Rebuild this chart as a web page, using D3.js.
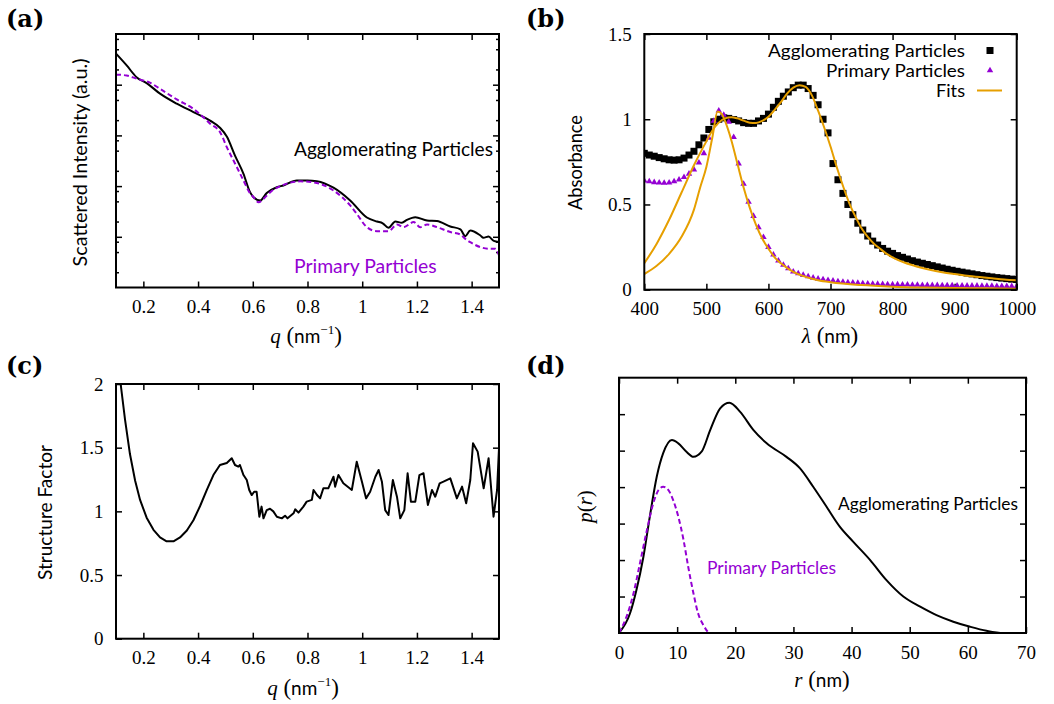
<!DOCTYPE html>
<html><head><meta charset="utf-8">
<script src="https://cdn.jsdelivr.net/npm/d3@7"></script>
<style>body{margin:0;background:#fff}svg{display:block}</style>
</head><body>
<svg id="c" width="1054" height="704"></svg>
<script>
// ---------- Panel (a): scattered intensity vs q (log y) ----------
const qAgg = [0.100,0.139,0.175,0.212,0.261,0.322,0.383,0.444,0.481,0.505,0.535,0.566,0.590,0.602,0.627,0.651,0.688,0.712,0.761,0.800,0.834,0.895,0.956,1.017,1.054,1.075,1.096,1.121,1.145,1.163,1.194,1.237,1.273,1.322,1.359,1.377,1.395,1.432,1.443,1.462,1.481,1.500];
const iAgg = [41000,24000,14100,10760,6650,4220,2885,1950,1400,950,400,175,76,61,52,73,95,103,129,129,125,93,52,24,20,18.5,15,20,19,21.5,24.4,21,20.5,16,14,10.3,13.3,10.6,9.6,10.1,8.3,7.9];
const qPrim = [0.100,0.139,0.175,0.224,0.261,0.322,0.383,0.420,0.444,0.481,0.505,0.535,0.566,0.590,0.602,0.621,0.639,0.664,0.712,0.773,0.834,0.895,0.956,0.980,1.017,1.054,1.096,1.127,1.151,1.188,1.212,1.237,1.273,1.322,1.359,1.377,1.395,1.432,1.468,1.486,1.500];
const iPrim = [15800,15200,13150,11000,8280,5130,3330,2265,1700,1146,587,280,129,72,61,48,56,76,106,124,115,82,41.5,28.4,15.5,12.9,12.9,17.5,15.5,19.5,15.5,17.5,15.5,12.4,11.1,9.1,7.85,6.25,5.8,5.8,4.3];
const qTicks = [0.2,0.4,0.6,0.8,1,1.2,1.4];
const aMajor = [10,100,1000,10000];
const aMinor = [2,5,8,20,50,80,200,500,800,2000,5000,8000,20000,50000,80000];

// ---------- Panel (b): absorbance spectra ----------
const lam = [400,408,416,424,432,440,448,456,464,472,480,488,496,504,512,520,528,536,544,552,560,568,576,584,592,600,608,616,624,632,640,648,656,664,672,680,688,696,704,712,720,728,736,744,752,760,768,776,784,792,800,808,816,824,832,840,848,856,864,872,880,888,896,904,912,920,928,936,944,952,960,968,976,984,992,1000];
const absAgg = [0.80,0.79,0.783,0.775,0.768,0.762,0.76,0.762,0.772,0.79,0.812,0.85,0.89,0.94,0.985,1.0,1.008,1.005,0.998,0.99,0.98,0.976,0.976,0.99,1.005,1.03,1.07,1.105,1.135,1.16,1.185,1.2,1.2,1.18,1.14,1.085,1.0,0.92,0.74,0.645,0.565,0.5,0.44,0.39,0.35,0.315,0.285,0.262,0.242,0.226,0.213,0.2,0.19,0.18,0.17,0.162,0.155,0.148,0.141,0.134,0.127,0.12,0.114,0.108,0.103,0.098,0.093,0.088,0.083,0.079,0.075,0.071,0.068,0.065,0.062,0.06];
const absPrim = [0.64,0.635,0.63,0.628,0.626,0.628,0.635,0.645,0.66,0.68,0.705,0.745,0.80,0.89,0.99,1.05,1.025,0.985,0.895,0.74,0.62,0.515,0.432,0.366,0.308,0.25,0.205,0.17,0.145,0.125,0.106,0.095,0.086,0.078,0.07,0.064,0.06,0.056,0.052,0.049,0.046,0.043,0.041,0.039,0.037,0.035,0.034,0.033,0.032,0.031,0.03,0.03,0.029,0.029,0.028,0.028,0.027,0.027,0.026,0.026,0.025,0.025,0.025,0.024,0.024,0.023,0.023,0.023,0.022,0.022,0.022,0.021,0.021,0.021,0.02,0.02];
const fitAggLam = [400,420,440,460,480,500,510,520,530,540,550,560,570,580,590,600,610,620,630,640,650,660,670,680,690,700,710,720,730,740,750,760,770,780,790,800,820,840,860,880,900,920,940,960,980,1000];
const fitAggAbs = [0.155,0.27,0.41,0.57,0.73,0.87,0.935,0.98,1.005,1.012,1.005,0.992,0.98,0.978,0.99,1.015,1.055,1.1,1.15,1.185,1.2,1.19,1.14,1.05,0.95,0.84,0.72,0.61,0.51,0.43,0.36,0.31,0.27,0.24,0.212,0.19,0.158,0.135,0.117,0.103,0.092,0.082,0.074,0.067,0.06,0.055];
const fitPrimLam = [400,420,440,460,480,490,500,510,518,525,530,540,550,560,570,580,590,600,610,620,640,660,680,700,750,800,850,900,950,1000];
const fitPrimAbs = [0.092,0.14,0.21,0.31,0.47,0.6,0.72,0.9,1.045,1.03,0.99,0.88,0.74,0.6,0.48,0.38,0.3,0.24,0.19,0.155,0.105,0.075,0.056,0.044,0.027,0.018,0.013,0.01,0.008,0.006];
const lamTicks = [400,500,600,700,800,900,1000];
const absTicks = [0,0.5,1,1.5];

// ---------- Panel (c): structure factor ----------
const qS = [0.113,0.117,0.133,0.151,0.170,0.188,0.212,0.237,0.261,0.285,0.310,0.334,0.359,0.383,0.407,0.432,0.456,0.480,0.505,0.523,0.535,0.547,0.553,0.566,0.578,0.587,0.596,0.605,0.614,0.624,0.632,0.639,0.651,0.663,0.675,0.688,0.706,0.718,0.727,0.749,0.755,0.767,0.785,0.797,0.816,0.822,0.834,0.846,0.858,0.876,0.895,0.901,0.913,0.931,0.962,0.980,0.999,1.014,1.029,1.048,1.060,1.072,1.084,1.096,1.112,1.127,1.139,1.154,1.166,1.178,1.194,1.209,1.224,1.240,1.255,1.267,1.283,1.297,1.322,1.346,1.365,1.380,1.395,1.405,1.422,1.444,1.462,1.480,1.493,1.500];
const sVal = [2.10,2.00,1.72,1.45,1.24,1.09,0.95,0.855,0.795,0.765,0.765,0.795,0.85,0.93,1.04,1.168,1.285,1.364,1.38,1.417,1.364,1.351,1.364,1.285,1.246,1.168,1.128,1.154,1.154,0.958,1.037,0.945,1.01,1.02,1.0,0.958,0.945,0.966,0.945,0.985,1.016,0.99,1.037,1.076,1.09,1.168,1.13,1.102,1.181,1.181,1.272,1.194,1.285,1.22,1.168,1.39,1.233,1.102,1.154,1.272,1.325,1.233,1.01,0.971,1.246,1.115,0.945,1.01,1.299,1.076,1.076,1.285,1.299,1.05,1.168,1.115,1.22,1.233,1.259,1.102,1.194,1.063,1.246,1.534,1.469,1.181,1.417,0.958,1.168,1.495];
const sTicks = [0,0.5,1,1.5,2];

// ---------- Panel (d): size distribution p(r) ----------
const rAgg = [0,1.9,3.0,4.2,5.3,6.5,7.6,9.1,10.2,11.6,12.8,14.2,15.7,17.4,19.0,20.8,23.1,25.4,28.8,31.1,33.4,35.7,38.0,40.3,43.2,46.0,48.9,51.8,54.6,57.5,60.4,63.2,66.1,70];
const pAgg = [0,0.54,1.18,2.09,3.19,4.29,4.93,5.29,5.20,4.97,4.83,4.97,5.57,6.16,6.31,6.07,5.57,5.20,4.83,4.52,4.01,3.46,2.91,2.50,2.0,1.45,1.0,0.72,0.49,0.31,0.17,0.06,0,0];
const rPrim = [0,1.3,2.5,3.6,4.8,5.9,6.8,7.6,8.5,9.3,10.2,11.1,11.9,12.8,13.6,14.5,15.4];
const pPrim = [0,0.45,1.09,1.91,2.82,3.56,3.92,4.01,3.92,3.65,3.19,2.55,1.82,1.09,0.54,0.22,0];
const rTicks = [0,10,20,30,40,50,60,70];
const pTicks = [1,2,3,4,5,6];

// ---------- drawing ----------
const SERIF = "'Liberation Serif','Times New Roman',serif";
const SANS = "Lato,'Noto Sans',sans-serif";
const PURPLE = '#9400d3', ORANGE = '#e69f00';
const svg = d3.select('#c');
svg.append('rect').attr('width',1054).attr('height',704).attr('fill','#fff');

function axes(id, xs, ys, o){
  const [x0,x1] = xs.range(), [y0,y1] = ys.range();
  const g = svg.append('g');
  svg.append('clipPath').attr('id','clip'+id).append('rect')
    .attr('x',x0).attr('y',y1).attr('width',x1-x0).attr('height',y0-y1);
  const style = sel => { sel.select('.domain').remove();
    sel.attr('font-family',SERIF).attr('font-size',19);
    sel.selectAll('line').attr('stroke','#000').attr('stroke-width',1.5);
    sel.selectAll('text').style('font-family',SERIF).attr('font-size',19).attr('fill','#000'); };
  const fmt = d => String(d);
  g.append('g').attr('transform',`translate(0,${y0})`)
    .call(d3.axisBottom(xs).tickValues(o.xt).tickSizeInner(-6).tickSizeOuter(0).tickFormat(o.xlab?fmt:''))
    .call(style).call(s=>s.selectAll('text').attr('y',25.5).attr('dy',0));
  g.append('g').attr('transform',`translate(0,${y1})`)
    .call(d3.axisTop(xs).tickValues(o.xt).tickSizeInner(-6).tickSizeOuter(0).tickFormat('')).call(style);
  g.append('g').attr('transform',`translate(${x0},0)`)
    .call(d3.axisLeft(ys).tickValues(o.yt).tickSizeInner(-6).tickSizeOuter(0).tickFormat(o.ylab?fmt:''))
    .call(style).call(s=>s.selectAll('text').attr('x',-12.5).attr('dy','0.33em'));
  g.append('g').attr('transform',`translate(${x1},0)`)
    .call(d3.axisRight(ys).tickValues(o.yt).tickSizeInner(-6).tickSizeOuter(0).tickFormat('')).call(style);
  if(o.ym){
    g.append('g').attr('transform',`translate(${x0},0)`)
      .call(d3.axisLeft(ys).tickValues(o.ym).tickSizeInner(-3).tickSizeOuter(0).tickFormat('')).call(style);
    g.append('g').attr('transform',`translate(${x1},0)`)
      .call(d3.axisRight(ys).tickValues(o.ym).tickSizeInner(-3).tickSizeOuter(0).tickFormat('')).call(style);
  }
  const plot = svg.append('g').attr('clip-path',`url(#clip${id})`);
  const border = () => svg.append('rect').attr('x',x0).attr('y',y1).attr('width',x1-x0).attr('height',y0-y1)
      .attr('fill','none').attr('stroke','#000').attr('stroke-width',2);
  return {plot, border};
}
function line(plot, xs, ys, X, Y, color, dash, curve){
  const pts = X.map((v,i)=>[v,Y[i]]);
  plot.append('path').datum(pts)
    .attr('d', d3.line().x(d=>xs(d[0])).y(d=>ys(d[1])).curve(curve||d3.curveMonotoneX))
    .attr('fill','none').attr('stroke',color).attr('stroke-width',2)
    .attr('stroke-dasharray',dash||null).attr('stroke-linejoin','round');
}
function label(x,y,txt,size,color,len,anchor){
  const t = svg.append('text').attr('x',x).attr('y',y).attr('font-family',SANS).attr('font-size',size)
    .attr('fill',color||'#000').attr('text-anchor',anchor||'start').text(txt);
  if(len) t.attr('textLength',len).attr('lengthAdjust','spacingAndGlyphs');
  return t;
}
function ylabel(x,cy,txt,size,len){
  svg.append('text').attr('transform',`translate(${x},${cy}) rotate(-90)`).attr('text-anchor','middle')
    .attr('font-family',SANS).attr('font-size',size).attr('textLength',len).attr('lengthAdjust','spacingAndGlyphs').text(txt);
}
function xtitle(cx,by,sym,sup){
  const t = svg.append('text').attr('x',cx).attr('y',by).attr('text-anchor','middle');
  t.append('tspan').attr('font-family',SERIF).attr('font-style','italic').attr('font-size',21).text(sym);
  t.append('tspan').attr('font-family',SERIF).attr('font-size',23).text(' (');
  t.append('tspan').attr('font-family',SANS).attr('font-size',19).text('nm');
  if(sup){
    t.append('tspan').attr('font-family',SERIF).attr('font-size',13).attr('dy',-9).text('\u22121');
    t.append('tspan').attr('font-family',SERIF).attr('font-size',23).attr('dy',9).text(')');
  } else t.append('tspan').attr('font-family',SERIF).attr('font-size',23).text(')');
}
function plabel(x,y,txt){
  svg.append('text').attr('x',x).attr('y',y).attr('font-family',"'DejaVu Serif',serif").attr('font-weight','bold')
    .attr('font-size',24).text(txt);
}

// Panel (a)
{
  const xs = d3.scaleLinear([0.1,1.5],[116,499]);
  const ys = d3.scaleLog([1,1e5],[287.5,34]);
  const {plot,border} = axes('a',xs,ys,{xt:qTicks,yt:aMajor,ym:aMinor,xlab:true,ylab:false});
  line(plot,xs,ys,qAgg,iAgg,'#000');
  line(plot,xs,ys,qPrim,iPrim,PURPLE,'5,3');
  border();
  label(294,156,'Agglomerating Particles',19,'#000',199);
  label(294,272.5,'Primary Particles',19,PURPLE,142.7);
  ylabel(87,162.5,'Scattered Intensity (a.u.)',19,208);
  xtitle(306,343,'q',true);
  plabel(6,27,'(a)');
}
// Panel (b)
{
  const xs = d3.scaleLinear([400,1000],[644.3,1016.7]);
  const ys = d3.scaleLinear([0,1.5],[289.7,34]);
  const {plot,border} = axes('b',xs,ys,{xt:lamTicks,yt:absTicks,xlab:true,ylab:true});
  plot.selectAll('rect.sq').data(lam.map((v,i)=>[v,absAgg[i]])).join('rect').attr('class','sq')
    .attr('x',d=>xs(d[0])-3.5).attr('y',d=>ys(d[1])-3.5).attr('width',7).attr('height',7).attr('fill','#000');
  const tri = d3.symbol(d3.symbolTriangle).size(18);
  plot.selectAll('path.tr').data(lam.map((v,i)=>[v,absPrim[i]])).join('path').attr('class','tr')
    .attr('d',tri).attr('transform',d=>`translate(${xs(d[0])},${ys(d[1])})`).attr('fill',PURPLE);
  line(plot,xs,ys,fitAggLam,fitAggAbs,ORANGE);
  line(plot,xs,ys,fitPrimLam,fitPrimAbs,ORANGE);
  border();
  label(965,56.5,'Agglomerating Particles',16.6,'#000',197,'end');
  label(965,76.5,'Primary Particles',16.6,'#000',139,'end');
  label(965,96.5,'Fits',16.6,'#000',29,'end');
  svg.append('rect').attr('x',986.5).attr('y',47).attr('width',7).attr('height',7).attr('fill','#000');
  svg.append('path').attr('d',tri).attr('transform','translate(990,70.5)').attr('fill',PURPLE);
  svg.append('line').attr('x1',977).attr('x2',1002).attr('y1',90.5).attr('y2',90.5).attr('stroke',ORANGE).attr('stroke-width',2);
  ylabel(581.5,162.5,'Absorbance',19,95);
  svg.append('text').attr('x',830).attr('y',343).attr('text-anchor','middle').call(t=>{
    t.append('tspan').attr('font-family',SERIF).attr('font-style','italic').attr('font-size',21).text('\u03bb');
    t.append('tspan').attr('font-family',SERIF).attr('font-size',23).text(' (');
    t.append('tspan').attr('font-family',SANS).attr('font-size',19).text('nm');
    t.append('tspan').attr('font-family',SERIF).attr('font-size',23).text(')');
  });
  plabel(526,27,'(b)');
}
// Panel (c)
{
  const xs = d3.scaleLinear([0.1,1.5],[116,499]);
  const ys = d3.scaleLinear([0,2],[638.7,384]);
  const {plot,border} = axes('c',xs,ys,{xt:qTicks,yt:sTicks,xlab:true,ylab:true});
  line(plot,xs,ys,qS,sVal,'#000',null,d3.curveLinear);
  border();
  ylabel(51.5,512.5,'Structure Factor',19,135);
  xtitle(303,695,'q',true);
  plabel(6,374,'(c)');
}
// Panel (d)
{
  const xs = d3.scaleLinear([0,70],[619,1026]);
  const ys = d3.scaleLinear([0,7],[633,377.7]);
  const {plot,border} = axes('d',xs,ys,{xt:rTicks,yt:pTicks,xlab:true,ylab:false});
  line(plot,xs,ys,rAgg,pAgg,'#000');
  line(plot,xs,ys,rPrim,pPrim,PURPLE,'5,3');
  border();
  label(838,510,'Agglomerating Particles',16.5,'#000',180);
  label(707,574,'Primary Particles',16.5,PURPLE,129);
  svg.append('text').attr('transform','translate(592,506.5) rotate(-90)').attr('text-anchor','middle').call(t=>{
    t.append('tspan').attr('font-family',SERIF).attr('font-style','italic').attr('font-size',21).text('p');
    t.append('tspan').attr('font-family',SERIF).attr('font-size',21).text('(');
    t.append('tspan').attr('font-family',SERIF).attr('font-style','italic').attr('font-size',21).text('r');
    t.append('tspan').attr('font-family',SERIF).attr('font-size',21).text(')');
  });
  svg.append('text').attr('x',822).attr('y',687).attr('text-anchor','middle').call(t=>{
    t.append('tspan').attr('font-family',SERIF).attr('font-style','italic').attr('font-size',21).text('r');
    t.append('tspan').attr('font-family',SERIF).attr('font-size',23).text(' (');
    t.append('tspan').attr('font-family',SANS).attr('font-size',19).text('nm');
    t.append('tspan').attr('font-family',SERIF).attr('font-size',23).text(')');
  });
  plabel(526,374,'(d)');
}
</script>
</body></html>
